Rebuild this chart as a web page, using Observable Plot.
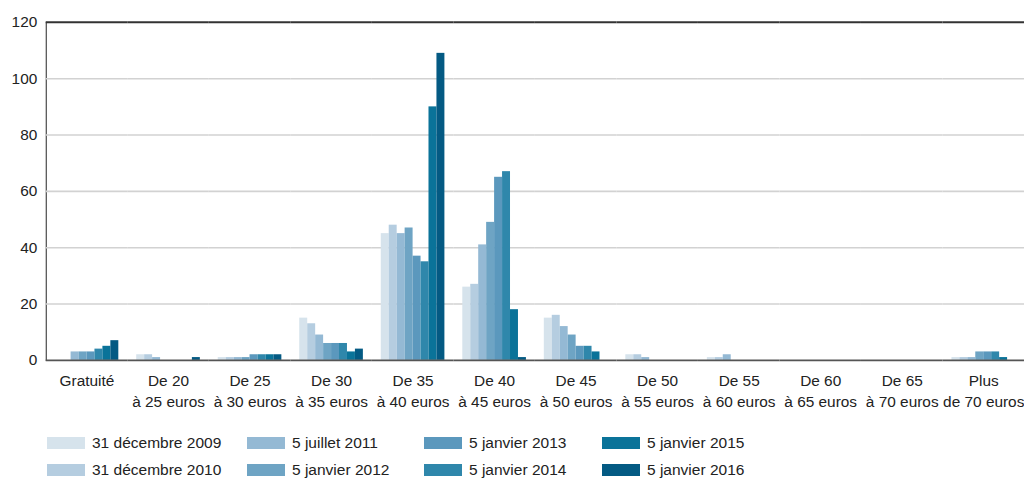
<!DOCTYPE html>
<html>
<head>
<meta charset="utf-8">
<script src="https://cdn.jsdelivr.net/npm/d3@7"></script>
<script src="https://cdn.jsdelivr.net/npm/@observablehq/plot@0.6"></script>
<style>
  html, body { margin: 0; padding: 0; background: #fff; overflow: hidden; }
  #wrap { position: relative; width: 1024px; height: 478px; overflow: hidden;
    font-family: "Liberation Sans", Arial, sans-serif; color: #222; }
  #chart { position: absolute; left: 0; top: 0; }
  .lg { position: absolute; font-size: 15.5px; line-height: 18px; white-space: nowrap; }
  .sw { position: absolute; width: 38px; height: 12px; }
</style>
</head>
<body>
<div id="wrap">
  <div id="chart"></div>
  <div id="legend"></div>
</div>
<script>
// Categories (price ranges)
const categories = ["Gratuité", "De 20 à 25", "De 25 à 30", "De 30 à 35", "De 35 à 40", "De 40 à 45",
  "De 45 à 50", "De 50 à 55", "De 55 à 60", "De 60 à 65", "De 65 à 70", "Plus de 70"];
const categoryLabels = ["Gratuité", "De 20\nà 25 euros", "De 25\nà 30 euros", "De 30\nà 35 euros",
  "De 35\nà 40 euros", "De 40\nà 45 euros", "De 45\nà 50 euros", "De 50\nà 55 euros",
  "De 55\nà 60 euros", "De 60\nà 65 euros", "De 65\nà 70 euros", "Plus\nde 70 euros"];

// Series
const series = ["31 décembre 2009", "31 décembre 2010", "5 juillet 2011", "5 janvier 2012",
  "5 janvier 2013", "5 janvier 2014", "5 janvier 2015", "5 janvier 2016"];
const colors = ["#d6e3ec", "#b5cde0", "#94b9d4", "#6ea4c4", "#5b98bd", "#2f87ab", "#0a7399", "#045a83"];

// Values per series (one per category)
const v2009 = [0, 2, 1, 15, 45, 26, 15, 2, 1, 0, 0, 1];
const v2010 = [0, 2, 1, 13, 48, 27, 16, 2, 1, 0, 0, 1];
const v2011 = [3, 1, 1, 9, 45, 41, 12, 1, 2, 0, 0, 1];
const v2012 = [3, 0, 1, 6, 47, 49, 9, 0, 0, 0, 0, 3];
const v2013 = [3, 0, 2, 6, 37, 65, 5, 0, 0, 0, 0, 3];
const v2014 = [4, 0, 2, 6, 35, 67, 5, 0, 0, 0, 0, 3];
const v2015 = [5, 0, 2, 3, 90, 18, 3, 0, 0, 0, 0, 1];
const v2016 = [7, 1, 2, 4, 109, 1, 0, 0, 0, 0, 0, 0];

const yTicks = [0, 20, 40, 60, 80, 100, 120];
const gridTicks = [20, 40, 60, 80, 100];

const seriesValues = [v2009, v2010, v2011, v2012, v2013, v2014, v2015, v2016];
const data = [];
series.forEach((s, j) => categories.forEach((c, i) => {
  data.push({cat: c, series: s, value: seriesValues[j][i]});
}));
const labelOf = new Map(categories.map((c, i) => [c, categoryLabels[i]]));

const FONT = '"Liberation Sans", Arial, sans-serif';

const chart = Plot.plot({
  width: 1030,
  height: 420,
  marginLeft: 46,
  marginRight: 0,
  marginTop: 22,
  marginBottom: 58,
  style: {fontFamily: FONT, fontSize: "15.5px", color: "#222", background: "transparent"},
  fx: {domain: categories, paddingInner: 0, paddingOuter: 0, axis: null, label: null},
  x: {domain: series, paddingInner: 0, paddingOuter: 0.77, axis: null},
  y: {domain: [0, 120], ticks: yTicks, tickSize: 0, tickPadding: 9, label: null, line: true},
  color: {domain: series, range: colors},
  marks: [
    Plot.ruleY(gridTicks, {stroke: "#d2d2d2", strokeWidth: 1.6}),
    Plot.barY(data, {fx: "cat", x: "series", y: "value", fill: "series"}),
    Plot.ruleY([0], {stroke: "#555", strokeWidth: 1.6}),
    Plot.ruleY([120], {stroke: "#333", strokeWidth: 2}),
    Plot.text(categories, {fx: d => d, text: d => labelOf.get(d), frameAnchor: "bottom",
      lineAnchor: "top", dy: 11, lineHeight: 1.35, fontSize: 15.5, fill: "#222"})
  ]
});
document.getElementById("chart").appendChild(chart);

// Legend (HTML, below the chart)
const legend = document.getElementById("legend");
const colX = [47, 247, 424, 602];
const rowY = [437, 464];
series.forEach((s, k) => {
  const col = Math.floor(k / 2), row = k % 2;
  const sw = document.createElement("div");
  sw.className = "sw";
  sw.style.left = colX[col] + "px";
  sw.style.top = rowY[row] + "px";
  sw.style.background = colors[k];
  legend.appendChild(sw);
  const t = document.createElement("div");
  t.className = "lg";
  t.style.left = (colX[col] + 45) + "px";
  t.style.top = (rowY[row] - 3) + "px";
  t.textContent = s;
  legend.appendChild(t);
});
</script>
</body>
</html>
